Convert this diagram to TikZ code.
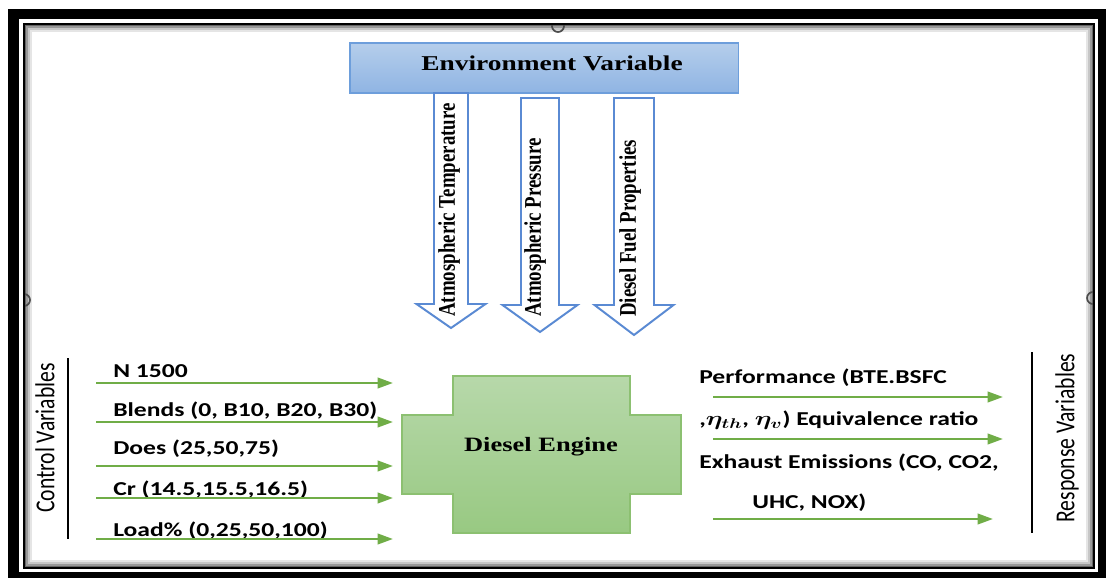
\documentclass[tikz,border=0pt]{standalone}
\usepackage{fontspec}
\usepackage{amsmath}
\setmainfont{Liberation Serif}
\newfontfamily\calibri{Carlito}
\usetikzlibrary{arrows.meta}

\definecolor{envtop}{HTML}{B5CEEB}
\definecolor{envbot}{HTML}{8FB4E3}
\definecolor{envline}{HTML}{6D9EDB}
\definecolor{blkline}{HTML}{5A8AD3}
\definecolor{engtop}{HTML}{B7D8AA}
\definecolor{engbot}{HTML}{98C982}
\definecolor{engline}{HTML}{8CC071}
\definecolor{flow}{HTML}{70AD47}

\newcommand\squeeze[1]{\scalebox{0.79}[1]{#1}}
\newcommand\widen[1]{\scalebox{1.3}[1]{#1}}

\begin{document}
\begin{tikzpicture}[
        x=0.025cm, y=-0.025cm,
        envbox/.style={draw=envline, line width=0.8pt, top color=envtop, bottom color=envbot,
            minimum width=276pt, minimum height=35.6pt},
        bigserif/.style={font=\bfseries\fontsize{15}{15}\selectfont},
        blockarrow/.style={draw=blkline, line width=1.4pt, fill=white, line join=miter},
        vlabel/.style={rotate=90, anchor=west, inner sep=0pt,
            font=\bfseries\fontsize{17}{17}\selectfont},
        flowarr/.style={-{Triangle[length=11pt, width=7.5pt]}, draw=flow, line width=1.8pt},
        inlbl/.style={anchor=west, inner sep=0pt, font=\calibri\bfseries\fontsize{14}{14}\selectfont},
        side/.style={rotate=90, inner sep=0pt, font=\calibri\fontsize{19.5}{19.5}\selectfont},
        bar/.style={line width=2pt},
    ]
    \useasboundingbox (0,0) rectangle (1106,578);

    % frame
    \draw[line width=7.8pt] (13.5,14) rectangle (1103.5,577.5);
    \begin{scope}
        \clip (24,24) rectangle (1094,568);
        \foreach \d/\g in {1/60,3/40,5/22,7/10}
            \draw[black!\g, line width=1.5pt] (24+\d,24+\d) rectangle (1094-\d,568-\d);
        \draw[black!70, line width=1.2pt] (558,26) circle (6) (24,300) circle (6) (1093,298) circle (6);
    \end{scope}
    \draw[line width=2pt] (24,24) rectangle (1094,568);

    % environment variables
    \node[envbox] (env) at (544,68) {};
    \node[bigserif] (envtxt) at (552,63) {\widen{Environment Variable}};
    \foreach \i/\x/\s/\h/\t/\hy/\tip in {1/451/17/34.5/93/304/328, 2/540/19/37.5/98/305/332, 3/634/20/39.5/98/305/335}{
        \coordinate (a\i) at (\x,\tip);
        \draw[blockarrow] (\x-\s,\t) -- (\x-\s,\hy) -- (\x-\h,\hy) -- (a\i)
            -- (\x+\h,\hy) -- (\x+\s,\hy) -- (\x+\s,\t) -- cycle;
    }
    \node[vlabel] (temp) at (449,317) {\squeeze{Atmospheric Temperature}};
    \node[vlabel] (press) at (535,317) {\squeeze{Atmospheric Pressure}};
    \node[vlabel] (fuel) at (630,317) {\squeeze{Diesel Fuel Properties}};

    % engine
    \shade[top color=engtop, bottom color=engbot, draw=engline, line width=0.8pt]
        (453,376) -- (630,376) -- (630,415) -- (681,415) -- (681,494) -- (630,494)
        -- (630,533) -- (453,533) -- (453,494) -- (402,494) -- (402,415) -- (453,415) -- cycle;
    \node[font=\bfseries\fontsize{14.5}{14.5}\selectfont] (engine) at (541,447) {\widen{Diesel Engine}};

    % control variables
    \node[side] (ctrl) at (45,438) {\squeeze{Control Variables}};
    \draw[bar] (68,358) -- (68,539);
    \foreach \i/\ly/\ay/\txt in {1/371/383/{N 1500}, 2/411/422/{Blends (0, B10, B20, B30)},
            3/449/466/{Does (25,50,75)}, 4/490/498/{Cr (14.5,15.5,16.5)},
            5/531/539/{Load\% (0,25,50,100)}}{
        \node[inlbl] (c\i) at (113,\ly) {\widen{\txt}};
        \draw[flowarr] (96,\ay) -- (393,\ay);
    }

    % response variables
    \node[inlbl] (r1) at (699,378) {\widen{Performance (BTE.BSFC}};
    \node[inlbl] (r2) at (699,420) {\widen{,$\boldsymbol{\eta_{th}}$, $\boldsymbol{\eta_v}$) Equivalence ratio}};
    \node[inlbl] (r3) at (699,463) {\widen{Exhaust Emissions (CO, CO2,}};
    \node[inlbl] (r4) at (752,503) {\widen{UHC, NOX)}};
    \draw[flowarr] (713,397) -- (1003,397);
    \draw[flowarr] (713,439) -- (1003,439);
    \draw[flowarr] (713,519) -- (993,519);
    \draw[bar] (1032,352) -- (1032,533);
    \node[side] (resp) at (1067,438) {\squeeze{Response Variables}};
\end{tikzpicture}
\end{document}
